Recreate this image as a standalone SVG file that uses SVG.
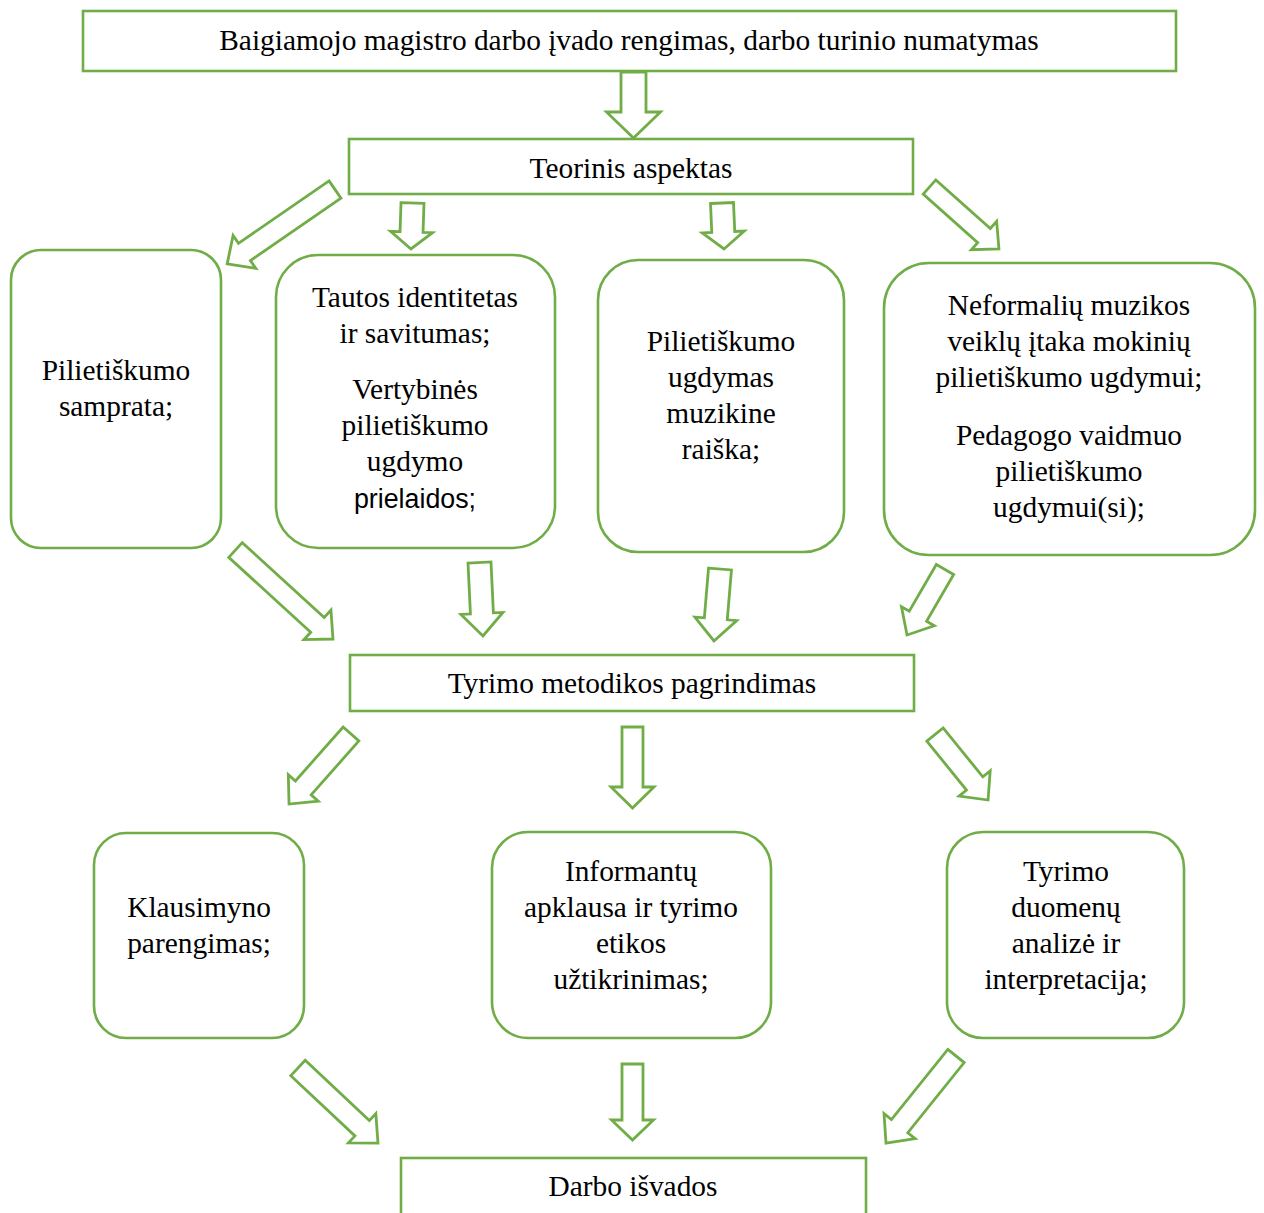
<svg xmlns="http://www.w3.org/2000/svg" width="1264" height="1213" viewBox="0 0 1264 1213">
<style>
.box{fill:#fff;stroke:#70AD47;stroke-width:2.6}
.arr{fill:#fff;stroke:#70AD47;stroke-width:2.8;stroke-linejoin:miter}
.t{font-family:"Liberation Serif","Times New Roman",serif;font-size:29.4px;fill:#000;text-anchor:middle}
.s{font-family:"Liberation Sans",Arial,sans-serif;font-size:26.8px;fill:#000;text-anchor:middle}
</style>
<rect width="1264" height="1213" fill="#fff"/>
<g id="n1"><rect class="box" x="83" y="11" width="1093" height="60"/><text class="t" x="629" y="50">Baigiamojo magistro darbo įvado rengimas, darbo turinio numatymas</text></g>
<g id="n2"><rect class="box" x="349" y="139" width="564" height="55"/><text class="t" x="631" y="178">Teorinis aspektas</text></g>
<g id="n3"><rect class="box" x="11" y="250" width="210" height="298" rx="30"/><text class="t" x="116" y="380">Pilietiškumo</text><text class="t" x="116" y="416">samprata;</text></g>
<g id="n4"><rect class="box" x="276" y="255" width="279" height="293" rx="42"/><text class="t" x="415" y="307">Tautos identitetas</text><text class="t" x="415" y="343">ir savitumas;</text><text class="t" x="415" y="399">Vertybinės</text><text class="t" x="415" y="435">pilietiškumo</text><text class="t" x="415" y="471">ugdymo</text><text class="s" x="415" y="508">prielaidos;</text></g>
<g id="n5"><rect class="box" x="598" y="260" width="246" height="292" rx="40"/><text class="t" x="721" y="351">Pilietiškumo</text><text class="t" x="721" y="387">ugdymas</text><text class="t" x="721" y="423">muzikine</text><text class="t" x="721" y="459">raiška;</text></g>
<g id="n6"><rect class="box" x="884" y="263" width="371" height="292" rx="45"/><text class="t" x="1069" y="315">Neformalių muzikos</text><text class="t" x="1069" y="351">veiklų įtaka mokinių</text><text class="t" x="1069" y="387">pilietiškumo ugdymui;</text><text class="t" x="1069" y="445">Pedagogo vaidmuo</text><text class="t" x="1069" y="481">pilietiškumo</text><text class="t" x="1069" y="517">ugdymui(si);</text></g>
<g id="n7"><rect class="box" x="350" y="655" width="564" height="56"/><text class="t" x="632" y="693">Tyrimo metodikos pagrindimas</text></g>
<g id="n8"><rect class="box" x="94" y="833" width="210" height="205" rx="32"/><text class="t" x="199" y="917">Klausimyno</text><text class="t" x="199" y="953">parengimas;</text></g>
<g id="n9"><rect class="box" x="492" y="832" width="279" height="206" rx="36"/><text class="t" x="631" y="881">Informantų</text><text class="t" x="631" y="917">apklausa ir tyrimo</text><text class="t" x="631" y="953">etikos</text><text class="t" x="631" y="989">užtikrinimas;</text></g>
<g id="n10"><rect class="box" x="947" y="832" width="237" height="206" rx="36"/><text class="t" x="1066" y="881">Tyrimo</text><text class="t" x="1066" y="917">duomenų</text><text class="t" x="1066" y="953">analizė ir</text><text class="t" x="1066" y="989">interpretacija;</text></g>
<g id="n11"><rect class="box" x="401" y="1158" width="465" height="70"/><text class="t" x="633" y="1196">Darbo išvados</text></g>
<g id="connectors">
<path class="arr" transform="translate(633.5,72)" d="M-12.5,0H12.5V40H27L0,66L-27,40H-12.5Z"/>
<path class="arr" transform="translate(335,189.5) rotate(55.4)" d="M-10.5,0H10.5V110H20L0,131L-20,110H-10.5Z"/>
<path class="arr" transform="translate(412.5,203) rotate(1.9)" d="M-11.5,0H11.5V29H21L0,46L-21,29H-11.5Z"/>
<path class="arr" transform="translate(722,203) rotate(-2.5)" d="M-11.5,0H11.5V29H21L0,46L-21,29H-11.5Z"/>
<path class="arr" transform="translate(929.5,187) rotate(-48.3)" d="M-9.5,0H9.5V73H19L0,93L-19,73H-9.5Z"/>
<path class="arr" transform="translate(235.5,550) rotate(-47.6)" d="M-10,0H10V111H20L0,132L-20,111H-10Z"/>
<path class="arr" transform="translate(479.5,562.5) rotate(-2.7)" d="M-11.5,0H11.5V51H21L0,73.6L-21,51H-11.5Z"/>
<path class="arr" transform="translate(720,569) rotate(4.8)" d="M-11.5,0H11.5V50H21L0,72.2L-21,50H-11.5Z"/>
<path class="arr" transform="translate(945,569.5) rotate(30.1)" d="M-10,0H10V54H19L0,75.7L-19,54H-10Z"/>
<path class="arr" transform="translate(351,734) rotate(41.5)" d="M-10.5,0H10.5V72H20L0,93.5L-20,72H-10.5Z"/>
<path class="arr" transform="translate(632.5,727)" d="M-10.5,0H10.5V60H21.5L0,81L-21.5,60H-10.5Z"/>
<path class="arr" transform="translate(935,734.5) rotate(-39)" d="M-10.5,0H10.5V63H20L0,84.3L-20,63H-10.5Z"/>
<path class="arr" transform="translate(298,1068) rotate(-46.8)" d="M-10.5,0H10.5V88H20L0,109.7L-20,88H-10.5Z"/>
<path class="arr" transform="translate(632.5,1064)" d="M-10.5,0H10.5V56H21L0,76L-21,56H-10.5Z"/>
<path class="arr" transform="translate(956,1056) rotate(38.8)" d="M-10.5,0H10.5V90H20L0,111.7L-20,90H-10.5Z"/>
</g>
</svg>
